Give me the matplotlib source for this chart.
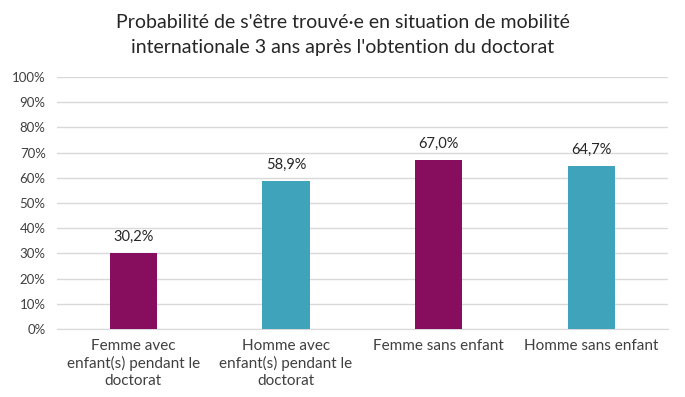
import matplotlib
matplotlib.use("Agg")
import matplotlib.pyplot as plt
from matplotlib.ticker import FuncFormatter

plt.rcParams['font.family'] = ['Lato', 'DejaVu Sans']

categories = ["Femme avec\nenfant(s) pendant le\ndoctorat",
              "Homme avec\nenfant(s) pendant le\ndoctorat",
              "Femme sans enfant",
              "Homme sans enfant"]
values = [30.2, 58.9, 67.0, 64.7]
labels = ["30,2%", "58,9%", "67,0%", "64,7%"]
colors = ["#870E5F", "#40A3BC", "#870E5F", "#40A3BC"]

fig = plt.figure(figsize=(6.85, 3.97), dpi=100)
ax = fig.add_axes([0.083, 0.171, 0.892, 0.635])

x = range(len(categories))
bars = ax.bar(x, values, width=0.31, color=colors, zorder=3)
for b, lab in zip(bars, labels):
    ax.text(b.get_x() + b.get_width() / 2, b.get_height() + 3.5, lab,
            ha="center", va="bottom", fontsize=10.5, color="#262626")

ax.set_xlim(-0.5, 3.5)
ax.set_ylim(0, 100)
ax.set_yticks(range(0, 101, 10))
ax.yaxis.set_major_formatter(FuncFormatter(lambda v, p: f"{int(v)}%"))
ax.grid(axis="y", color="#D9D9D9", linewidth=1, zorder=0)
for s in ["top", "right", "left"]:
    ax.spines[s].set_visible(False)
ax.spines["bottom"].set_color("#D9D9D9")
ax.tick_params(axis="both", length=0, colors="#404040")
ax.tick_params(axis="y", pad=8, labelsize=9.5)
ax.tick_params(axis="x", pad=7, labelsize=11)
ax.set_xticks(list(x))
ax.set_xticklabels(categories, linespacing=1.25)

fig.suptitle("Probabilité de s'être trouvé·e en situation de mobilité\ninternationale 3 ans après l'obtention du doctorat",
             y=0.965, fontsize=14, color="#262626", linespacing=1.55)

fig.savefig("out.png", dpi=100)
